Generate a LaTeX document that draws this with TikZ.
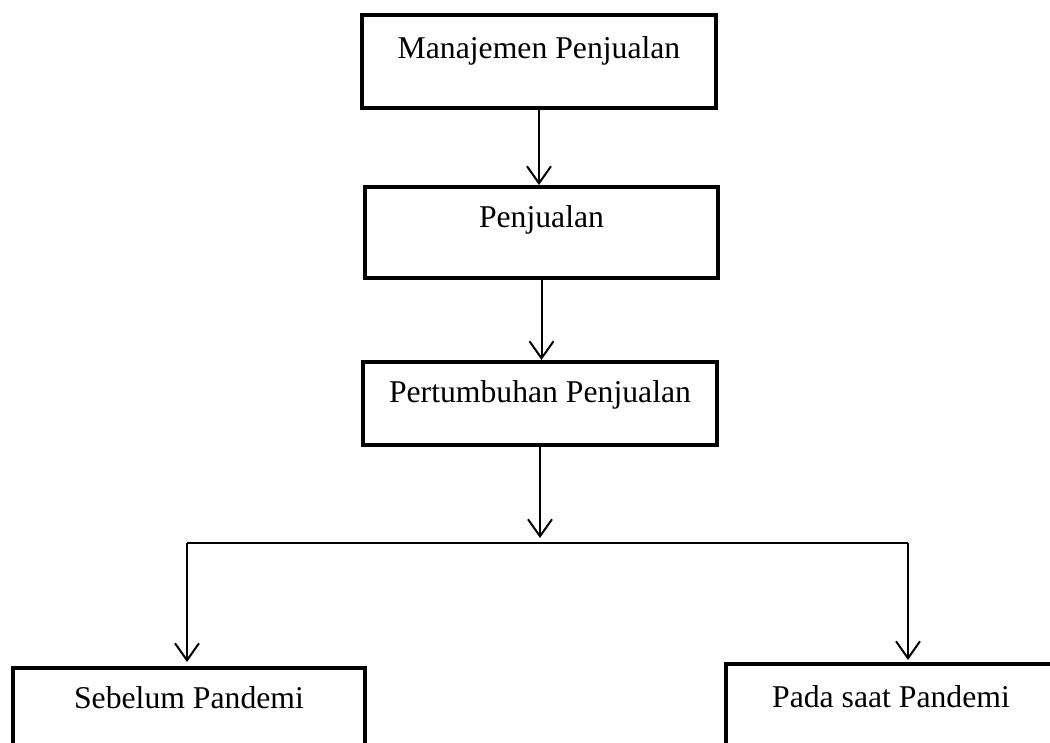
\documentclass[tikz,border=0pt]{standalone}
\usepackage{fontspec}
\setmainfont{Liberation Serif}
\usetikzlibrary{arrows.meta}

\tikzset{
  kotak/.style={draw, line width=4pt, inner sep=0pt, font=\fontsize{31.7}{38}\selectfont},
  panah/.style={line width=2pt, -{Straight Barb[length=17pt,width=24pt,line width=2pt]}},
  garis/.style={line width=2pt},
}

\begin{document}
\begin{tikzpicture}[x=1pt,y=-1pt]
\clip (0,0) rectangle (1050,742);
\node[kotak, minimum width=354pt, text height=43pt, text depth=50pt] (manajemen) at (539,61.5) {Manajemen Penjualan};
\node[kotak, minimum width=353pt, text height=40pt, text depth=51pt] (penjualan) at (541.5,232.5) {Penjualan};
\node[kotak, minimum width=354pt, text height=40pt, text depth=43pt] (pertumbuhan) at (540,403.5) {Pertumbuhan Penjualan};
\node[kotak, minimum width=352pt, text height=40pt, text depth=80pt] (sebelum) at (189,728) {Sebelum Pandemi};
\node[kotak, minimum width=330pt, text height=43pt, text depth=80pt] (saat) at (891,725.5) {Pada saat Pandemi};
\coordinate (cabang) at (542,543);
\coordinate (kiri) at (187,543);
\coordinate (kanan) at (908,543);
\draw[panah] (manajemen.south) -- (manajemen.south |- penjualan.north);
\draw[panah] (penjualan.south) -- (penjualan.south |- pertumbuhan.north);
\draw[panah, shorten >=5pt] (pertumbuhan.south) -- (pertumbuhan.south |- cabang);
\draw[garis] (kiri) -- (kanan);
\draw[panah, shorten >=4pt] (kiri) -- (kiri |- sebelum.north);
\draw[panah, shorten >=2pt] (kanan) -- (kanan |- saat.north);
\end{tikzpicture}
\end{document}
